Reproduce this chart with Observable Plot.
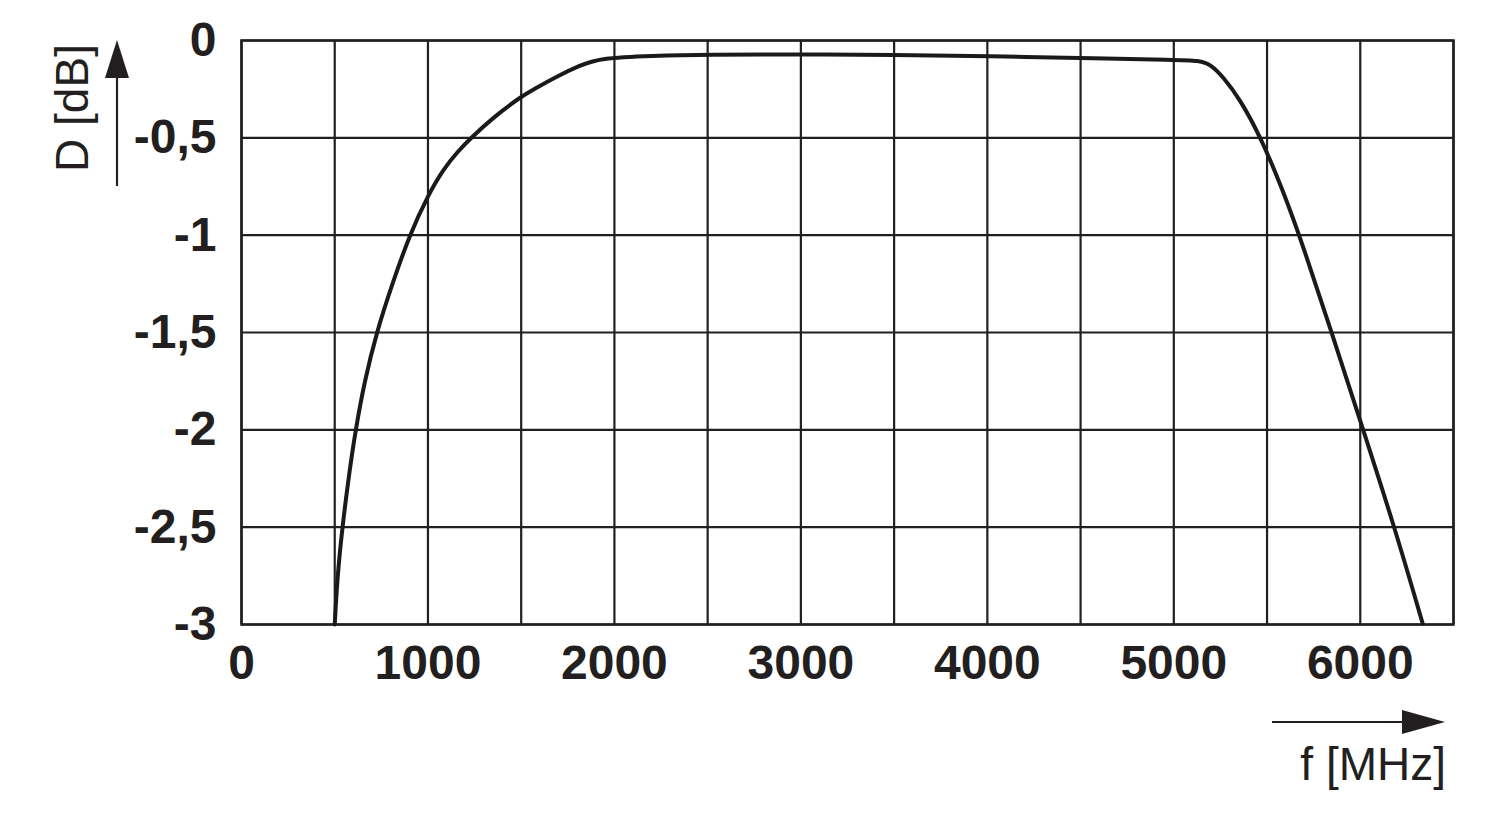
<!DOCTYPE html>
<html>
<head>
<meta charset="utf-8">
<script src="https://cdn.jsdelivr.net/npm/d3@7"></script>
<script src="https://cdn.jsdelivr.net/npm/@observablehq/plot@0.6"></script>
<style>
  html, body { margin: 0; padding: 0; background: #fff; }
  #chart { width: 1500px; height: 820px; }
</style>
</head>
<body>
<div id="chart"></div>
<script>
// Frequency (MHz) and attenuation D (dB)
const freq = [500, 514, 541, 575, 612, 660, 725, 809, 903, 1000, 1085, 1160, 1232, 1353, 1496, 1568, 1700, 1810, 1920, 2200, 2500, 3000, 3500, 4000, 4600, 5000, 5139, 5200, 5264, 5353, 5470, 5585, 5692, 5853, 6005, 6184, 6335];
const loss = [-3, -2.756, -2.50, -2.24, -1.999, -1.75, -1.497, -1.249, -0.995, -0.795, -0.658, -0.57, -0.499, -0.393, -0.29, -0.25, -0.18, -0.13, -0.09, -0.078, -0.072, -0.071, -0.074, -0.08, -0.092, -0.099, -0.102, -0.125, -0.187, -0.298, -0.504, -0.77, -1.05, -1.52, -1.968, -2.50, -2.996];

const xGrid = [0, 500, 1000, 1500, 2000, 2500, 3000, 3500, 4000, 4500, 5000, 5500, 6000, 6500];
const yGrid = [0, -0.5, -1, -1.5, -2, -2.5, -3];
const xTickValues = [0, 1000, 2000, 3000, 4000, 5000, 6000];
const xTickLabels = ["0", "1000", "2000", "3000", "4000", "5000", "6000"];
const yTickValues = [0, -0.5, -1, -1.5, -2, -2.5, -3];
const yTickLabels = ["0", "-0,5", "-1", "-1,5", "-2", "-2,5", "-3"];
const yAxisTitle = "D [dB]";
const xAxisTitle = "f [MHz]";

const curve = freq.map((f, i) => ({f, d: loss[i]}));
const xTicks = xTickValues.map((v, i) => ({v, label: xTickLabels[i]}));
const yTicks = yTickValues.map((v, i) => ({v, label: yTickLabels[i]}));

const FONT = "'Liberation Sans', Arial, Helvetica, sans-serif";
const INK = "#231f20";

const plot = Plot.plot({
  width: 1500,
  height: 820,
  marginLeft: 241,
  marginRight: 47,
  marginTop: 40,
  marginBottom: 196,
  style: {fontFamily: FONT, background: "#fff", color: INK, overflow: "visible"},
  x: {domain: [0, 6500], axis: null},
  y: {domain: [-3, 0], axis: null},
  marks: [
    Plot.ruleX(xGrid, {stroke: INK, strokeWidth: 2.2, strokeOpacity: 1}),
    Plot.ruleY(yGrid, {stroke: INK, strokeWidth: 2.2, strokeOpacity: 1}),
    Plot.frame({stroke: INK, strokeWidth: 2.5}),
    Plot.line(curve, {x: "f", y: "d", stroke: "#1a1a1a", strokeWidth: 4, curve: "basis"}),
    Plot.text(xTicks, {x: "v", y: () => -3, text: "label", dy: 39, textAnchor: "middle", lineAnchor: "middle",
      fontSize: 48, fontWeight: "bold", fill: INK, clip: false}),
    Plot.text(yTicks, {x: () => 0, y: "v", text: "label", dx: -25, dy: 0, textAnchor: "end", lineAnchor: "middle",
      fontSize: 48, fontWeight: "bold", fill: INK, clip: false})
  ]
});

document.getElementById("chart").appendChild(plot);

// Axis titles with arrows (decorations outside the plot frame)
const svg = d3.select(plot);
const deco = svg.append("g").attr("fill", INK).attr("stroke", "none");

// Y-axis arrow
deco.append("line").attr("x1", 117).attr("y1", 186).attr("x2", 117).attr("y2", 70)
  .attr("stroke", INK).attr("stroke-width", 2.2);
deco.append("path").attr("d", "M117,40 L105,78 L129,78 Z");
deco.append("text")
  .attr("transform", "translate(88,108) rotate(-90)")
  .attr("text-anchor", "middle")
  .attr("font-family", FONT)
  .attr("font-size", 46)
  .text(yAxisTitle);

// X-axis arrow
deco.append("line").attr("x1", 1272).attr("y1", 722).attr("x2", 1410).attr("y2", 722)
  .attr("stroke", INK).attr("stroke-width", 2.2);
deco.append("path").attr("d", "M1445,722 L1402,710 L1402,734 Z");
deco.append("text")
  .attr("x", 1446).attr("y", 780)
  .attr("text-anchor", "end")
  .attr("font-family", FONT)
  .attr("font-size", 46)
  .text(xAxisTitle);
</script>
</body>
</html>
